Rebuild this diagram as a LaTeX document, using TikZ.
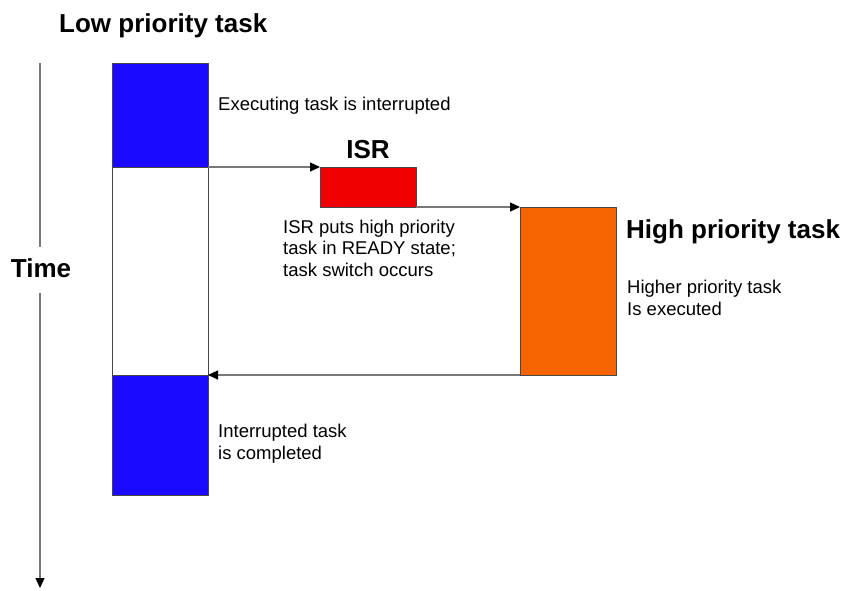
\documentclass[tikz,border=0pt]{standalone}
\usepackage{fontspec}
\setmainfont{Liberation Sans}
\usetikzlibrary{arrows.meta}

\definecolor{taskblue}{RGB}{25,10,255}
\definecolor{isrred}{RGB}{240,0,0}
\definecolor{highorange}{RGB}{245,100,0}
\definecolor{boxgray}{RGB}{70,70,70}
\definecolor{linegray}{RGB}{120,120,120}

\tikzset{
	taskbox/.style={draw=boxgray, line width=1pt, inner sep=0, outer sep=0, anchor=north west},
	note/.style={anchor=base west, inner sep=0, align=left, font=\fontsize{18.5}{21.5}\selectfont},
	heading/.style={inner sep=0, font=\fontsize{26}{30}\selectfont\bfseries},
	flow/.style={-{Triangle[length=10pt,width=9pt,color=black]}, draw=linegray, line width=1.2pt},
}

\begin{document}
\begin{tikzpicture}[x=1pt,y=-1pt]
	\useasboundingbox (0,0) rectangle (847,590);

	\node[taskbox, fill=white, minimum width=96pt, minimum height=208pt](lowmid) at (112,167) {};
	\node[taskbox, fill=taskblue, minimum width=96pt, minimum height=104pt](lowtop) at (112,63) {};
	\node[taskbox, fill=taskblue, minimum width=96pt, minimum height=120pt](lowbot) at (112,375) {};
	\node[taskbox, fill=isrred, minimum width=96pt, minimum height=40pt](isr) at (320,167) {};
	\node[taskbox, fill=highorange, minimum width=96pt, minimum height=168pt](high) at (520,207) {};

	\node[heading, anchor=base west](lowtitle) at (59,32) {Low priority task};
	\node[heading, anchor=base](isrtitle) at (368,158) {ISR};
	\node[heading, anchor=base west](hightitle) at (626,238) {High priority task};
	\node[heading, anchor=base](time) at (41,277) {Time};

	% multi-line notes sit on the baseline of their last line
	\node[note](interrupted) at (218,110) {Executing task is interrupted};
	\node[note](ready) at (283,276) {ISR puts high priority\\task in READY state;\\task switch occurs};
	\node[note](executed) at (627,315) {Higher priority task\\Is executed};
	\node[note](completed) at (218,459) {Interrupted task\\is completed};

	\coordinate(axtop) at (40,63);
	\coordinate(axbot) at (40,588);

	\draw[flow](lowtop.south east) -- (isr.north west);
	\draw[flow](isr.south east) -- (high.north west);
	\draw[flow](high.south west) -- (lowbot.north east);

	\draw[draw=linegray, line width=1.2pt](axtop) -- (40,247);
	\draw[flow](40,293) -- (axbot);
\end{tikzpicture}
\end{document}
